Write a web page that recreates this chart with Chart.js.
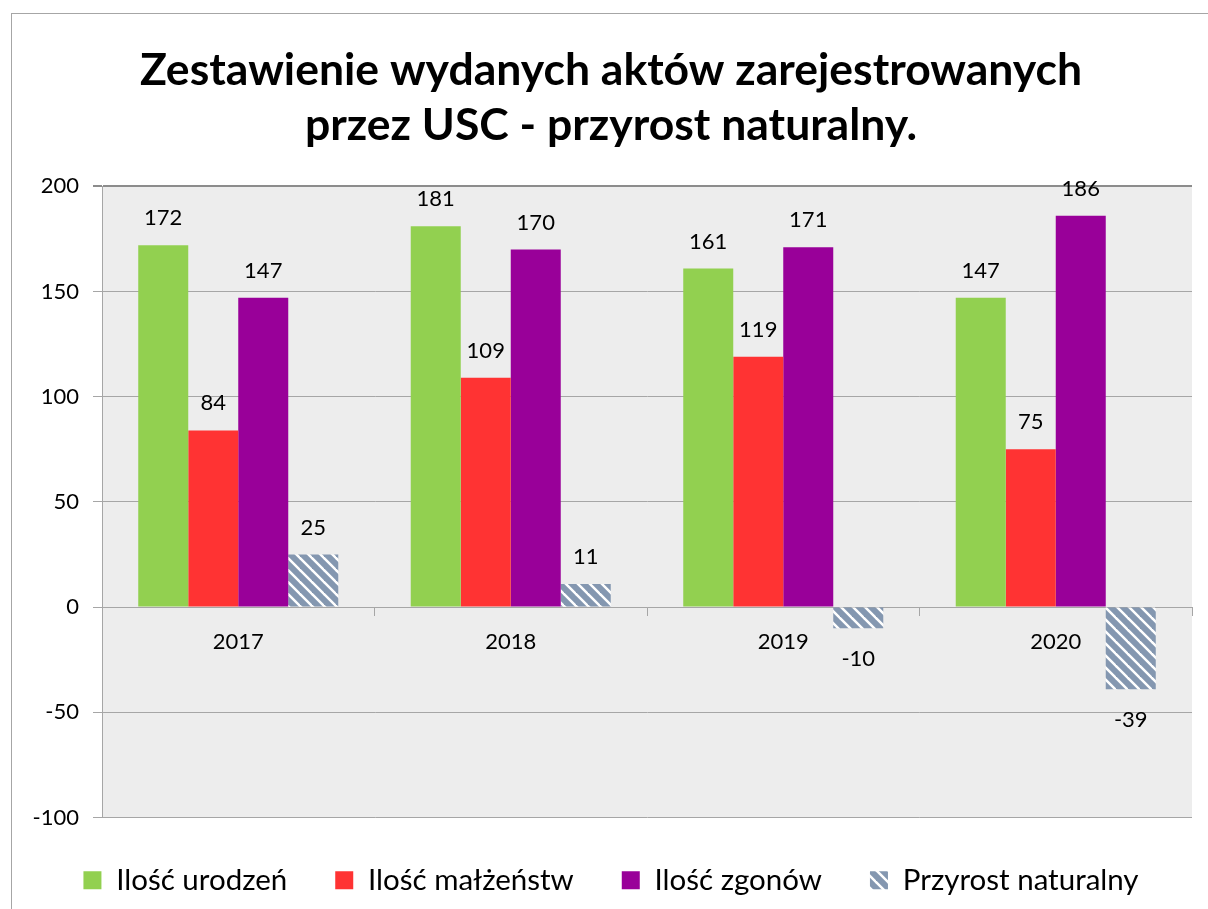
<!DOCTYPE html>
<html>
<head>
<meta charset="utf-8">
<script src="https://cdn.jsdelivr.net/npm/chart.js@4/dist/chart.umd.min.js"></script>
<style>
  html, body { margin: 0; padding: 0; background: #ffffff; }
  #wrap { width: 1208px; height: 909px; position: relative; }
</style>
</head>
<body>
<div id="wrap"><canvas id="c" width="1208" height="909"></canvas></div>
<script>
const categories = ['2017', '2018', '2019', '2020'];
const births = [172, 181, 161, 147];
const marriages = [84, 109, 119, 75];
const deaths = [147, 170, 171, 186];
const naturalGrowth = [25, 11, -10, -39];
const seriesNames = ['Ilość urodzeń', 'Ilość małżeństw', 'Ilość zgonów', 'Przyrost naturalny'];
const yTicks = { min: -100, max: 200, step: 50 };

const FONT = 'Lato, "Open Sans", sans-serif';

function makeHatch() {
  const s = 12;
  const c = document.createElement('canvas');
  c.width = s; c.height = s;
  const g = c.getContext('2d');
  g.fillStyle = '#ffffff';
  g.fillRect(0, 0, s, s);
  g.strokeStyle = '#8497B0';
  g.lineWidth = 6;
  g.lineCap = 'square';
  for (let k = -1; k <= 1; k++) {
    g.beginPath();
    g.moveTo(k * s - s, -s);
    g.lineTo(k * s + 2 * s, 2 * s);
    g.stroke();
  }
  return document.getElementById('c').getContext('2d').createPattern(c, 'repeat');
}
const hatch = makeHatch();

const frame = {
  id: 'frame',
  beforeDraw(chart) {
    const { ctx, chartArea: a } = chart;
    ctx.save();
    ctx.fillStyle = '#ffffff';
    ctx.fillRect(0, 0, chart.width, chart.height);
    ctx.strokeStyle = '#a6a6a6';
    ctx.lineWidth = 1;
    ctx.strokeRect(11.5, 13.5, chart.width + 20, chart.height + 20);
    ctx.fillStyle = '#ededed';
    ctx.fillRect(a.left, a.top, a.right - a.left, a.bottom - a.top);
    ctx.restore();
  }
};

const valueLabels = {
  id: 'valueLabels',
  afterDatasetsDraw(chart) {
    const { ctx } = chart;
    ctx.save();
    ctx.font = '22px ' + FONT;
    ctx.fillStyle = '#000000';
    ctx.textAlign = 'center';
    ctx.textBaseline = 'middle';
    chart.data.datasets.forEach((ds, i) => {
      chart.getDatasetMeta(i).data.forEach((bar, j) => {
        const v = ds.data[j];
        const y = v >= 0 ? bar.y - 27 : bar.y + 31;
        ctx.fillText(String(v), bar.x, y);
      });
    });
    ctx.restore();
  }
};

new Chart(document.getElementById('c'), {
  type: 'bar',
  data: {
    labels: categories,
    datasets: [
      { label: seriesNames[0], data: births, backgroundColor: '#92D050' },
      { label: seriesNames[1], data: marriages, backgroundColor: '#FF3333' },
      { label: seriesNames[2], data: deaths, backgroundColor: '#990099' },
      { label: seriesNames[3], data: naturalGrowth, backgroundColor: hatch }
    ]
  },
  options: {
    responsive: false,
    animation: false,
    devicePixelRatio: 1,
    layout: { padding: { left: 30, right: 16, top: 0, bottom: 4 } },
    datasets: { bar: { categoryPercentage: 0.734, barPercentage: 1.0 } },
    scales: {
      x: {
        position: { y: 0 },
        grid: { offset: true, drawOnChartArea: false, drawTicks: true, tickLength: 8, color: '#a6a6a6' },
        border: { display: true, color: '#a6a6a6', width: 1 },
        ticks: { color: '#000000', font: { family: FONT, size: 22 }, padding: 14 }
      },
      y: {
        min: yTicks.min, max: yTicks.max,
        afterFit(s) { s.width = 72; },
        ticks: { stepSize: yTicks.step, color: '#000000', font: { family: FONT, size: 22 }, padding: 14 },
        grid: {
          color: (c) => (c.tick && c.tick.value === yTicks.max ? '#8c8c8c' : '#a6a6a6'),
          lineWidth: (c) => (c.tick && c.tick.value === yTicks.max ? 2 : 1),
          tickLength: 9, drawTicks: true
        },
        border: { display: true, color: '#a6a6a6' }
      }
    },
    plugins: {
      title: {
        display: true,
        text: ['Zestawienie wydanych aktów zarejestrowanych', 'przez USC - przyrost naturalny.'],
        color: '#000000',
        font: { family: FONT, size: 44.5, weight: 'bold', lineHeight: 1.24 },
        padding: { top: 43, bottom: 33 }
      },
      legend: {
        position: 'bottom',
        labels: {
          color: '#000000',
          font: { family: FONT, size: 29.5 },
          boxWidth: 18, boxHeight: 18,
          padding: 48
        }
      },
      tooltip: { enabled: false }
    }
  },
  plugins: [frame, valueLabels]
});
</script>
</body>
</html>
